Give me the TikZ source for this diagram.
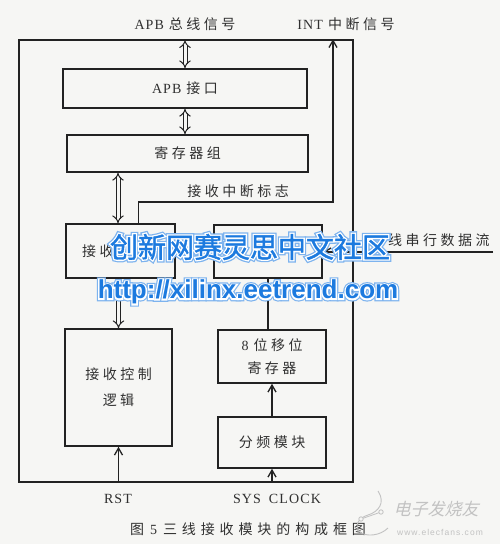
\documentclass[tikz,border=0pt]{standalone}
\usepackage{fontspec}
\setmainfont{Liberation Serif}[LetterSpace=8]
\newfontfamily\zh{Noto Sans CJK SC}[LetterSpace=25]
\newfontfamily\zhcap{Noto Sans CJK SC}[LetterSpace=35]
\newfontfamily\wmzh{Noto Sans CJK SC}[FakeBold=1.5]
\newfontfamily\wmzhw{Noto Sans CJK SC}[FakeBold=11]
\newfontfamily\wmzhg{Noto Sans CJK SC}[FakeBold=20]
\newfontfamily\wmlat{Liberation Sans}
\newfontfamily\wmlatw{Liberation Sans}[BoldFeatures={FakeBold=11}]
\newfontfamily\wmlatg{Liberation Sans}[BoldFeatures={FakeBold=20}]
\newfontfamily\logozh{Noto Sans CJK SC}[FakeSlant=0.25]
\newfontfamily\logolat{Liberation Sans}[LetterSpace=12]
\usetikzlibrary{arrows.meta,calc}
\definecolor{ink}{HTML}{222222}
\definecolor{txt}{HTML}{303030}
\definecolor{bg}{HTML}{F6F6F4}
\definecolor{wmblue}{HTML}{1C7ADF}
\definecolor{wmglow}{HTML}{7DB3EE}
\definecolor{logogray}{HTML}{C2C2C2}
\begin{document}
\begin{tikzpicture}[x=1pt,y=-1pt,
  box/.style={draw=ink,line width=1.6pt,inner sep=0pt,text=txt,font=\fontsize{14}{16}\selectfont},
  sarrow/.style={draw=ink,line width=1.3pt,-{Straight Barb[length=7pt,width=8pt,line width=1.3pt]}},
  plain/.style={draw=ink,line width=1.3pt},
  dbl/.style={draw=ink,line width=1pt,double=bg,double distance=3pt,{Implies}-{Implies}},
  dblone/.style={draw=ink,line width=1pt,double=bg,double distance=3pt,-{Implies}},
  lbl/.style={text=txt,inner sep=0pt,font=\fontsize{14}{16}\selectfont},
  wmsz/.style={inner sep=0pt,font=\fontsize{28}{28}\selectfont},
  wmusz/.style={inner sep=0pt,font=\bfseries\fontsize{26}{26}\selectfont},
]
\fill[bg] (0,0) rectangle (500,544);
\useasboundingbox (0,0) rectangle (500,544);

% boxes
\node[box,minimum width=334pt,minimum height=442pt] (outer) at (186,261) {};
\node[box,minimum width=244pt,minimum height=39pt] (apb) at (185,88.5) {APB\hspace{5pt}{\zh 接口}};
\node[box,minimum width=241pt,minimum height=37pt] (reg) at (187.5,153.5) {\zh 寄存器组};
\node[box,minimum width=109pt,minimum height=54pt] (recv) at (120.5,251) {};
\node[lbl,anchor=west] (recvt) at (82,251) {\zh 接收};
\node[box,minimum width=108pt,minimum height=53pt] (rbox) at (268,251.5) {};
\node[box,minimum width=107pt,minimum height=117pt,align=center,font=\fontsize{14}{26}\selectfont] (ctrl) at (118.5,387.5) {\zh 接收控制\\\zh 逻辑};
\node[box,minimum width=108pt,minimum height=53pt,align=center,font=\fontsize{14}{23}\selectfont] (shift) at (272,356.5) {8\hspace{5pt}{\zh 位移位}\\\zh 寄存器};
\node[box,minimum width=108pt,minimum height=51pt] (div) at (272,442.5) {\zh 分频模块};

% connectors
\draw[dbl,shorten <=1pt] (apb.north |- outer.north) -- (apb.north);
\draw[dbl] (apb.south) -- (apb.south |- reg.north);
\draw[dbl] ([xshift=-2.5pt]recv.north |- reg.south) -- ([xshift=-2.5pt]recv.north);
\draw[dblone] (ctrl.north |- recv.south) -- (ctrl.north);
\coordinate (intc) at (333,202);
\draw[sarrow] ([xshift=73pt]recv.north west) |- (intc) -- (intc |- outer.north);
\draw[plain] (rbox.south) -- (rbox.south |- shift.north);
\draw[sarrow] (div.north) -- (shift.south);
\draw[sarrow] (ctrl.south |- outer.south) -- (ctrl.south);
\draw[sarrow] (div.south |- outer.south) -- (div.south);
\coordinate (serin) at (493,252);
\draw[sarrow] (serin) -- (serin -| rbox.east);

% labels
\node[lbl] (lapb) at (185,24) {APB\hspace{5pt}{\zh 总线信号}};
\node[lbl] (lint) at (346,24) {INT\hspace{5pt}{\zh 中断信号}};
\node[lbl] (lflag) at (238,191) {\zh 接收中断标志};
\node[lbl] (lser) at (430,240) {\zh 三线串行数据流};
\node[lbl] (lrst) at (118,499) {RST};
\node[lbl] (lclk) at (277,499) {SYS\hspace{8pt}CLOCK};
\node[lbl] (cap) at (248,529) {{\zhcap 图}\hspace{6pt}5\hspace{6pt}{\zhcap 三线接收模块的构成框图}};

% logo watermark
\draw[logogray,line width=0.9pt] (378,491) .. controls (386,503) and (378,512) .. (368,515)
  .. controls (358,518) and (354,526) .. (360,532) .. controls (366,537) and (380,536) .. (388,528);
\draw[logogray,line width=0.8pt] (361,519) -- (381,512);
\draw[logogray,line width=0.8pt,fill=bg] (361,519) circle (2.2) (381,512) circle (2.2);
\node[inner sep=0pt,text=logogray,font=\logozh\fontsize{17}{17}\selectfont] (logo1) at (436,509) {电子发烧友};
\node[inner sep=0pt,text=logogray,font=\logolat\fontsize{8.5}{9}\selectfont] (logo2) at (440,532) {www.elecfans.com};

% blue watermark (glow, white outline, fill)
\node[wmsz,text=wmglow] (wga) at (250,247) {\wmzhg 创新网赛灵思中文社区};
\node[wmsz,text=white] (wwa) at (250,247) {\wmzhw 创新网赛灵思中文社区};
\node[wmsz,text=wmblue] (wm1) at (250,247) {\wmzh 创新网赛灵思中文社区};
\node[wmusz,text=wmglow] (wgb) at (248,292) {\wmlatg\bfseries http://xilinx.eetrend.com};
\node[wmusz,text=white] (wwb) at (248,292) {\wmlatw\bfseries http://xilinx.eetrend.com};
\node[wmusz,text=wmblue] (wm2) at (248,292) {\wmlat\bfseries http://xilinx.eetrend.com};
\end{tikzpicture}
\end{document}
